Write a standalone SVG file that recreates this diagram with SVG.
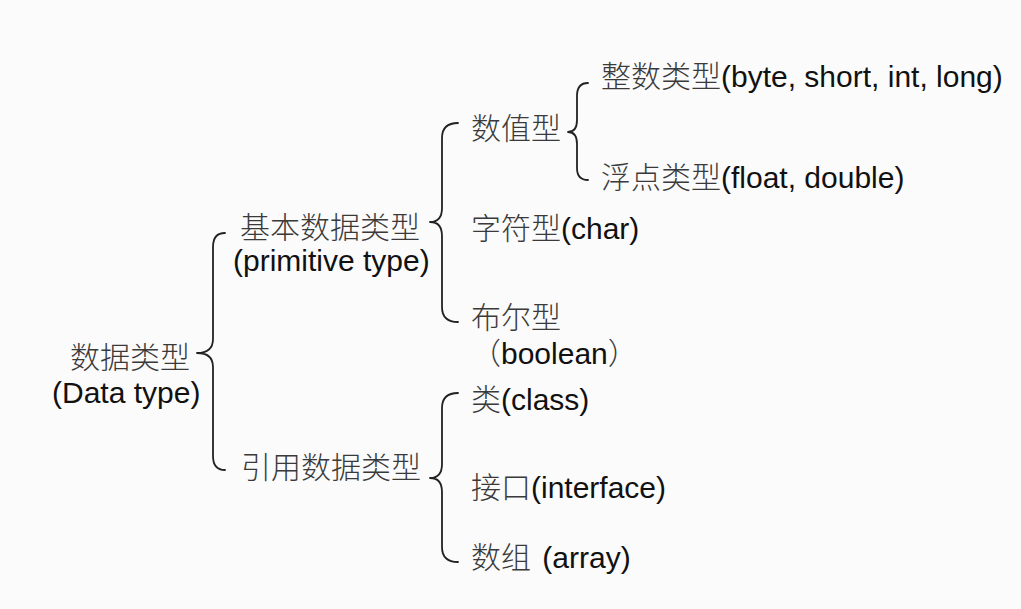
<svg xmlns="http://www.w3.org/2000/svg" width="1021" height="609" viewBox="0 0 1021 609">
<style>
text { font-family: "Liberation Sans", "Noto Sans CJK SC", sans-serif; font-size: 30px; fill: #111; }
.zh { font-family: "Noto Sans CJK SC", sans-serif; font-weight: 300; fill: #3a3a3a; }
.brace { fill: none; stroke: #222; stroke-width: 1.8; stroke-linecap: round; stroke-linejoin: round; }
</style>
<rect width="1021" height="609" fill="#fbfbfb"/>
<g id="connectors">
  <path class="brace" d="M225,233 Q213,233 213,247 L213,339 Q213,353 197,353 Q213,353 213,367 L213,456 Q213,470 225,470"/>
  <path class="brace" d="M458,123 Q442,123 442,138 L442,208 Q442,222 430,222 Q442,222 442,236 L442,307 Q442,322 458,322"/>
  <path class="brace" d="M588,83 Q577,83 577,96 L577,120 Q577,132 568,132 Q577,132 577,144 L577,168 Q577,180 588,180"/>
  <path class="brace" d="M458,393 Q442,393 442,408 L442,464 Q442,478 430,478 Q442,478 442,492 L442,547 Q442,562 458,562"/>
</g>
<g id="node-datatype">
  <text x="70" y="368"><tspan class="zh">数据类型</tspan></text>
  <text x="52" y="403">(Data type)</text>
</g>
<g id="node-primitive">
  <text x="240" y="238"><tspan class="zh">基本数据类型</tspan></text>
  <text x="233" y="271">(primitive type)</text>
</g>
<g id="node-reference">
  <text x="241" y="478"><tspan class="zh">引用数据类型</tspan></text>
</g>
<g id="node-numeric">
  <text x="471" y="139"><tspan class="zh">数值型</tspan></text>
</g>
<g id="node-integer">
  <text x="601" y="87"><tspan class="zh">整数类型</tspan>(byte, short, int, long)</text>
</g>
<g id="node-float">
  <text x="601" y="188"><tspan class="zh">浮点类型</tspan>(float, double)</text>
</g>
<g id="node-char">
  <text x="471" y="239"><tspan class="zh">字符型</tspan>(char)</text>
</g>
<g id="node-boolean">
  <text x="471" y="328"><tspan class="zh">布尔型</tspan></text>
  <text x="471" y="364"><tspan class="zh">（</tspan>boolean<tspan class="zh">）</tspan></text>
</g>
<g id="node-class">
  <text x="471" y="410"><tspan class="zh">类</tspan>(class)</text>
</g>
<g id="node-interface">
  <text x="471" y="498"><tspan class="zh">接口</tspan>(interface)</text>
</g>
<g id="node-array">
  <text x="471" y="568"><tspan class="zh">数组</tspan>  <tspan dx="3">(array)</tspan></text>
</g>
</svg>
